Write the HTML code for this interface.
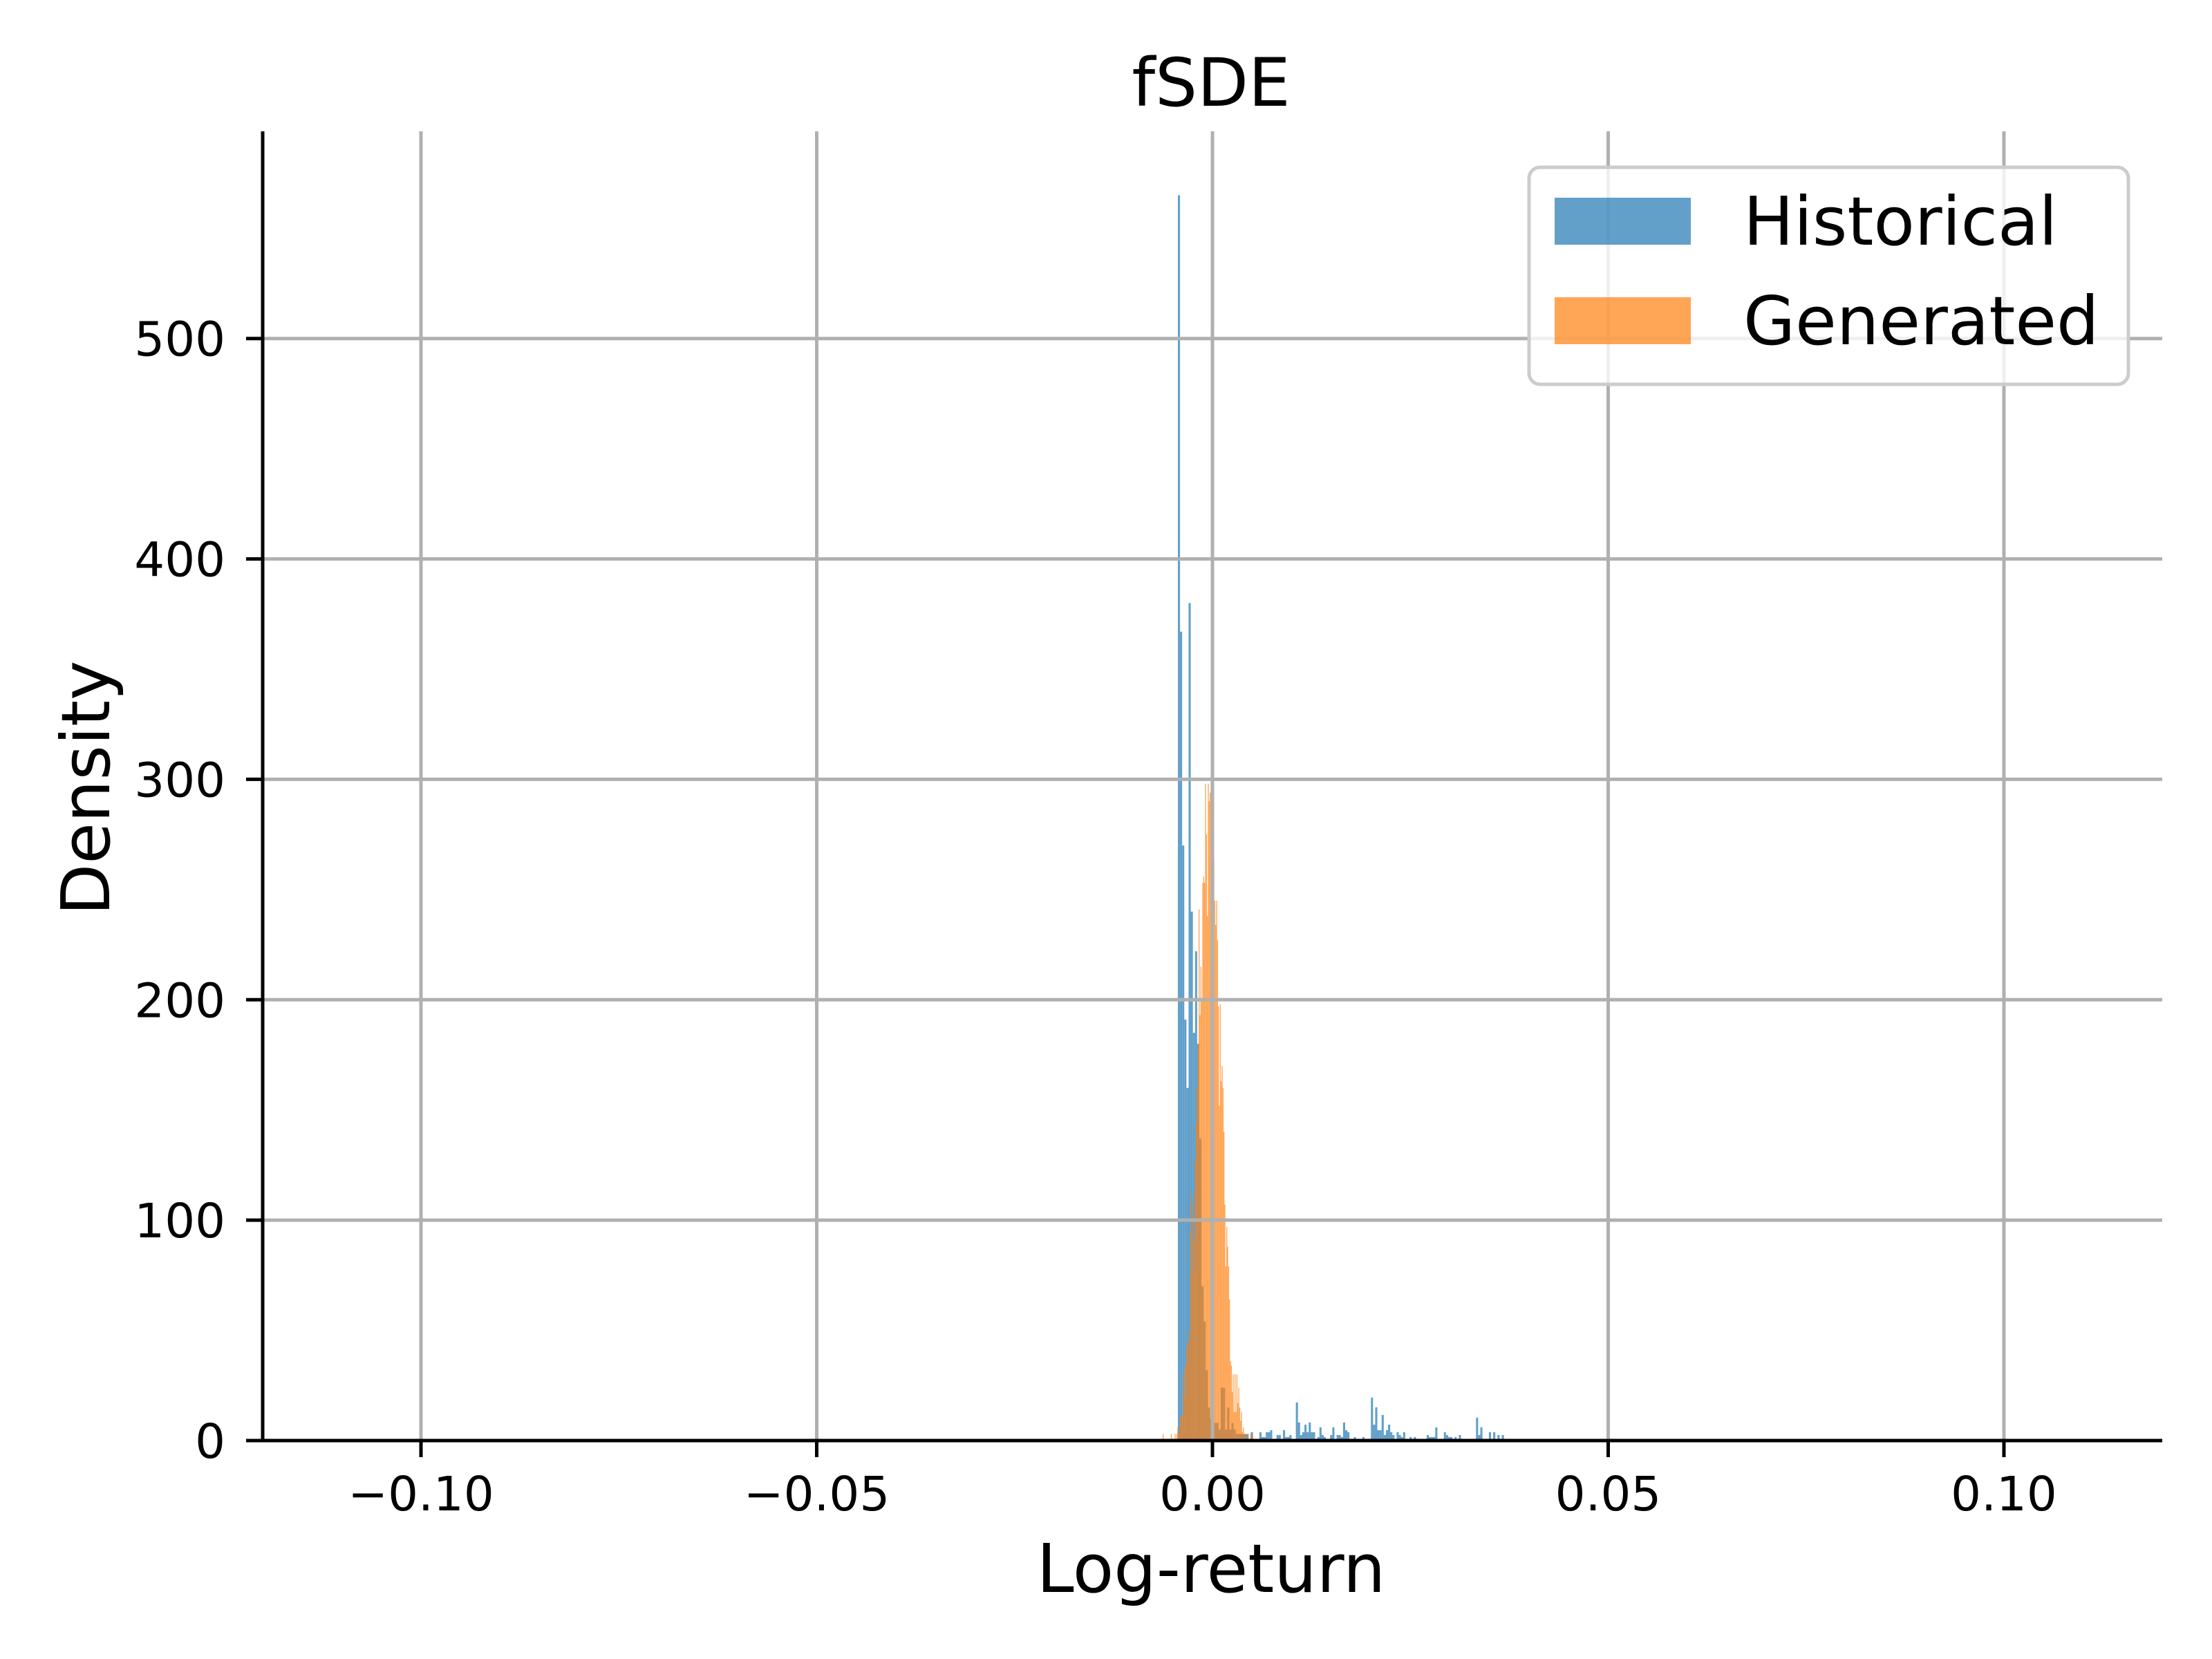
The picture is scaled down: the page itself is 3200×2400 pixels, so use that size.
<!DOCTYPE html>
<html><head><meta charset="utf-8">
<style>
html,body{margin:0;padding:0;background:#fff;}
svg{display:block;}
text{font-family:"DejaVu Sans","Liberation Sans",sans-serif;fill:#000;}
</style></head>
<body>
<svg id="chart" width="3200" height="2400" viewBox="0 0 3200 2400" xmlns="http://www.w3.org/2000/svg">
<rect width="3200" height="2400" fill="#fff"/>
<g id="bars"></g>
<g id="grid"></g>
<g id="axes"></g>
<text x="1752" y="153" font-size="96" text-anchor="middle">fSDE</text>
<text x="1752" y="2303" font-size="97" text-anchor="middle">Log-return</text>
<text transform="translate(158,1140) rotate(-90)" font-size="97" text-anchor="middle">Density</text>
<g>
<rect x="2212" y="242" width="867" height="314" rx="16" fill="#fff" fill-opacity="0.8" stroke="#cccccc" stroke-width="5"/>
<rect x="2249" y="286" width="197" height="68" fill="#1f77b4" fill-opacity="0.7"/>
<text x="2522" y="354" font-size="97">Historical</text>
<rect x="2249" y="430" width="197" height="68" fill="#ff7f0e" fill-opacity="0.7"/>
<text x="2522" y="498" font-size="97">Generated</text>
</g>
</svg>
<script>
// ---- data ----
const histStart = -0.00437;
const histBinWidth = 0.000271;
const historicalValues = [565,367,270,191,160,380,240,185,222,180,137,70,54,32,15,10,8,8,8,5,24,24,5,15,5,8,5,3,3,3,3,3,3,
0.3,3.8,0.3,0.3,0,3.8,1.6,1.6,3.8,3.8,4.7,0.3,0.3,2.5,2.5,0,4.7,1.6,1.6,2.5,0.3,0.3,17.3,8.2,2.5,3.8,7.2,3.8,8.2,3.8,3.8,0,1.6,6,2.5,1.6,0,0.3,2.5,6,0.3,2.5,2.5,1.6,8.2,4.7,3.8,0.3,0,1.6,0.3,0.3,0,1.6,0,0,0,19.5,7.2,15.1,4.7,4.7,11.6,2.5,4.7,7.2,3.8,2.5,0.3,3.8,2.5,1.6,3.8,0.3,0.3,1.6,0.3,1.6,0.3,0,0.3,0.3,0.3,2.5,1.6,1.6,1.6,6,0.3,0.3,0.3,3.8,2.5,1.6,1.6,0.3,1.6,0.3,2.5,0,0,0,0.3,0,0.3,0,10.4,2.5,6,0.3,0,0.3,3.8,0.3,3.8,0.3,2.5,0.3,2.5,0.3,0,0,0.3,
0,0,0,0,0,0,0,0,0,0.3,0,0,0,0,0,0,0,0,0,0,0,0,0,0,0.3,0,0,0.3,0,0,0,0,0,0,0,0,0,0,0,0.3,0,0,0,0,0,0,0,0,0,0.3,0,0,0,0,0,0.3,0.3,0.3];
const genStart = -0.006294;
const genBinWidth = 0.0001166;
const generatedValues = [3,0,0,0,0,0,0,0,0,3,0,0,0,3,0,3,6,3,6,
11,11,11,30,20,34,34,43,45,50,45,112,95,107,77,92,127,144,160,180,241,193,215,200,253,256,253,298,275,238,298,290,294,300,301,279,264,245,234,245,227,197,152,198,163,170,160,140,107,79,97,88,79,64,36,34,22,30,13,30,13,30,17,24,15,9,13,4,6,3,0,3,0,3,0,0,3,0,3];
const xTicks = [-0.10,-0.05,0.00,0.05,0.10];
const xTickLabels = ["\u22120.10","\u22120.05","0.00","0.05","0.10"];
const yTicks = [0,100,200,300,400,500];
const yTickLabels = ["0","100","200","300","400","500"];

// ---- scales ----
const X0=380, X1=3128, Y0=2084, YTOP=190;
const xMin=-0.12, xMax=0.12, yMax=594;
const sx = v => X0 + (v - xMin) / (xMax - xMin) * (X1 - X0);
const sy = v => Y0 - v / yMax * (Y0 - YTOP);
const NS="http://www.w3.org/2000/svg";
function mk(tag, attrs, parent){const e=document.createElementNS(NS,tag);for(const k in attrs)e.setAttribute(k,attrs[k]);parent.appendChild(e);return e;}

const bars=document.getElementById('bars');
historicalValues.forEach((v,i)=>{
  if(v<=0) return;
  const a=sx(histStart+i*histBinWidth), b=sx(histStart+(i+1)*histBinWidth);
  const r=mk('rect',{x:a,y:sy(v),width:b-a,height:Y0-sy(v),fill:'#1f77b4','fill-opacity':0.7},bars);
  
  
});
generatedValues.forEach((v,i)=>{
  if(v<=0) return;
  const a=sx(genStart+i*genBinWidth), b=sx(genStart+(i+1)*genBinWidth);
  const r=mk('rect',{x:a,y:sy(v),width:b-a,height:Y0-sy(v),fill:'#ff7f0e','fill-opacity':0.7},bars);
  
  
});

const grid=document.getElementById('grid');
xTicks.forEach(t=>{
  const l=mk('line',{x1:sx(t),x2:sx(t),y1:YTOP,y2:Y0,stroke:'#b0b0b0','stroke-width':5},grid);
  
  
});
yTicks.forEach(t=>{
  if(t===0) return;
  const l=mk('line',{x1:X0,x2:X1,y1:sy(t),y2:sy(t),stroke:'#b0b0b0','stroke-width':5},grid);
  
  
});

const axes=document.getElementById('axes');
const ls=mk('line',{x1:X0,x2:X0,y1:YTOP,y2:Y0+2.5,stroke:'#000','stroke-width':5},axes);


const bs=mk('line',{x1:X0-2.5,x2:X1,y1:Y0,y2:Y0,stroke:'#000','stroke-width':5},axes);


xTicks.forEach((t,i)=>{
  const tk=mk('line',{x1:sx(t),x2:sx(t),y1:Y0,y2:Y0+24,stroke:'#000','stroke-width':5},axes);
  
  
  const tx=mk('text',{x:sx(t),y:2185,'font-size':69,'text-anchor':'middle'},axes);
  tx.textContent=xTickLabels[i];
  
  
});
yTicks.forEach((t,i)=>{
  const tk=mk('line',{x1:X0-24,x2:X0,y1:sy(t),y2:sy(t),stroke:'#000','stroke-width':5},axes);
  
  
  const tx=mk('text',{x:326,y:sy(t)+25,'font-size':69,'text-anchor':'end'},axes);
  tx.textContent=yTickLabels[i];
  
  
});
</script>
</body></html>
